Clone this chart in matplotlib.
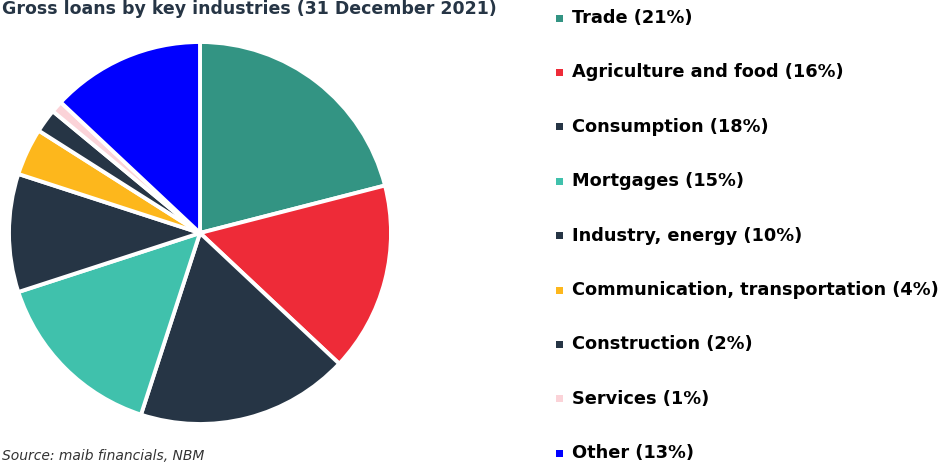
import matplotlib
matplotlib.use('Agg')
import matplotlib.pyplot as plt
from matplotlib.patches import Rectangle

# Loan portfolio by industry, share in %
industries = ['Trade', 'Agriculture and food', 'Consumption', 'Mortgages',
              'Industry, energy', 'Communication, transportation',
              'Construction', 'Services', 'Other']
shares = [21, 16, 18, 15, 10, 4, 2, 1, 13]
colors = ['#339483', '#EE2B38', '#263545', '#40C1AC', '#263545',
          '#FDB71C', '#263545', '#FBD3D8', '#0000FF']

W, H = 946, 463
fig = plt.figure(figsize=(W / 100, H / 100), dpi=100)
fig.patch.set_facecolor('white')

# pie: centre ~(200, 233) px, radius ~191 px
cx, cy, r = 200, 233, 191
ax = fig.add_axes([(cx - r) / W, (H - cy - r) / H, 2 * r / W, 2 * r / H])
ax.pie(shares, colors=colors, startangle=90, counterclock=False,
       wedgeprops=dict(edgecolor='white', linewidth=2.8))
ax.set_xlim(-1, 1)
ax.set_ylim(-1, 1)
ax.set_aspect('equal')
ax.axis('off')

# title and source sit at the very edges of the frame
fig.text(2 / W, 1.0, 'Gross loans by key industries (31 December 2021)',
         ha='left', va='top', fontsize=12.5, fontweight='bold', color='#263545')
fig.text(2 / W, 0.0, 'Source: maib financials, NBM', ha='left', va='bottom',
         fontsize=10, style='italic', color='#333333')

# legend
y0, step = 18, 54.4
for i, (name, pct, col) in enumerate(zip(industries, shares, colors)):
    y = y0 + i * step
    fig.patches.append(Rectangle((556 / W, (H - y - 3.5) / H), 7 / W, 7 / H,
                                 transform=fig.transFigure, facecolor=col,
                                 edgecolor='none'))
    fig.text(572 / W, (H - y) / H, f'{name} ({pct}%)', ha='left', va='center',
             fontsize=12.8, fontweight='bold', color='black', family='DejaVu Sans')

fig.savefig('out.png', dpi=100, facecolor='white')
